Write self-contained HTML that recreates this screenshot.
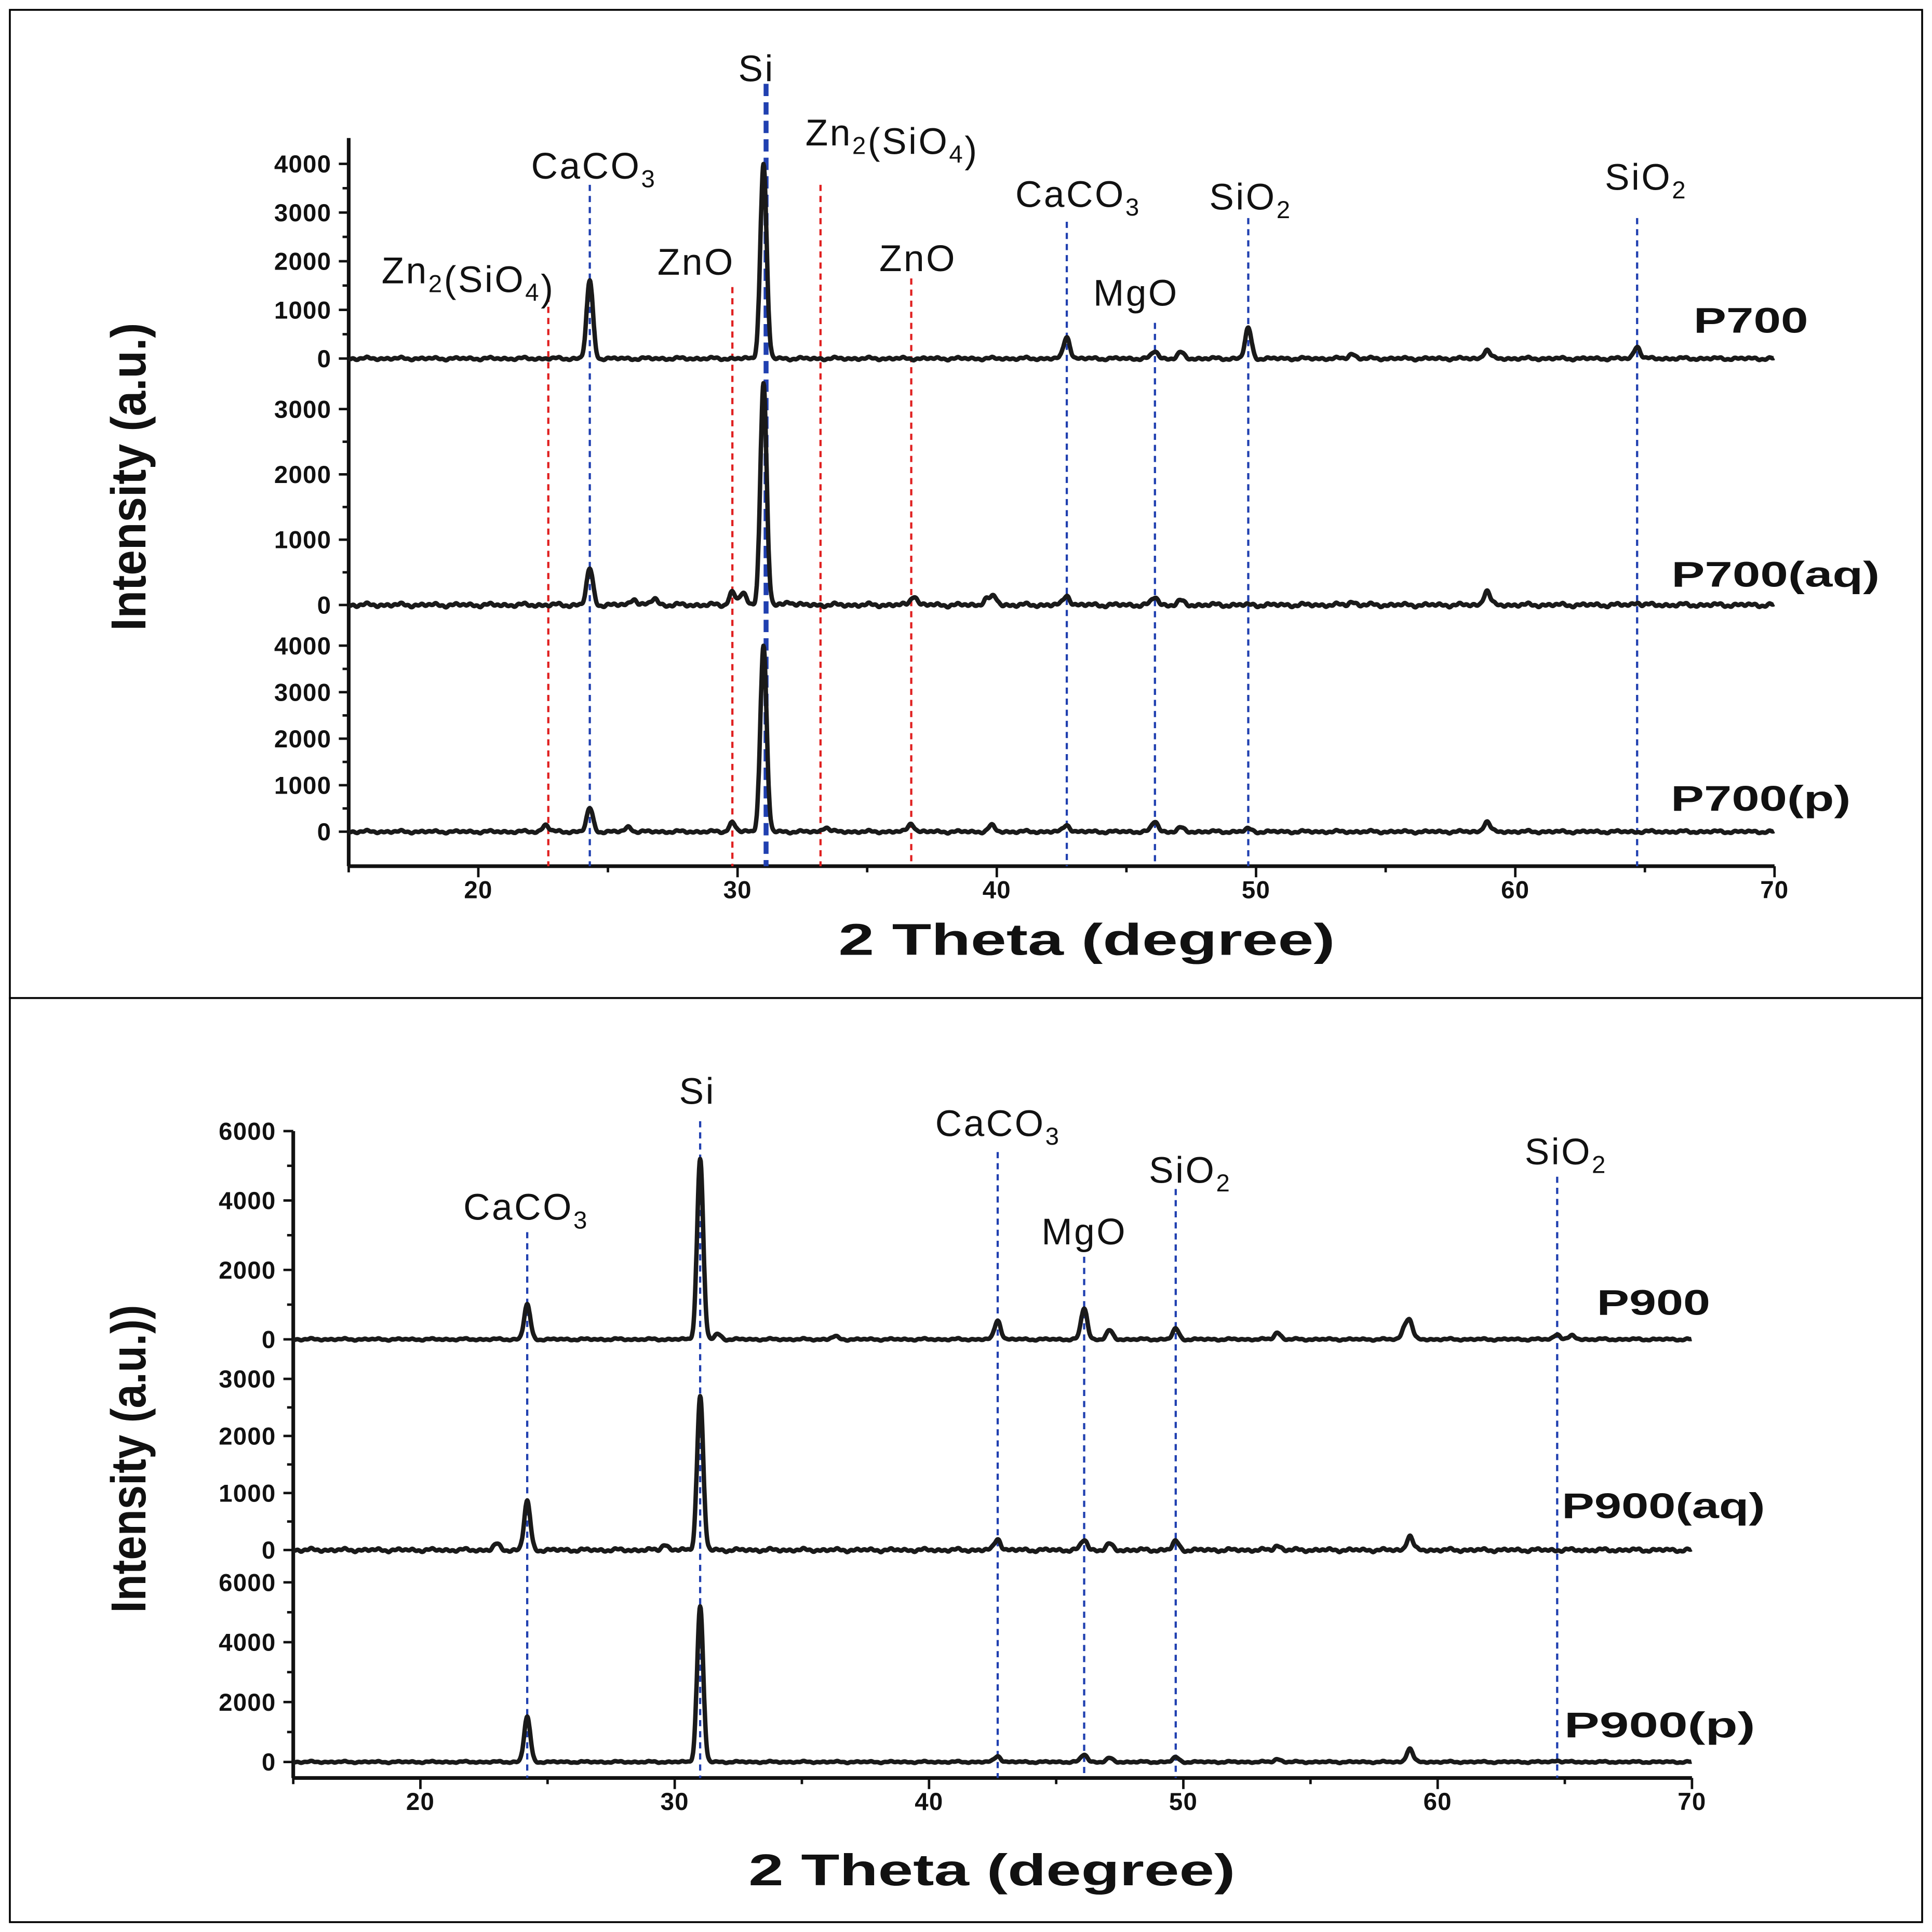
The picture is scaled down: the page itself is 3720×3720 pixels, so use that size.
<!DOCTYPE html>
<html><head><meta charset="utf-8"><style>
html,body{margin:0;padding:0;background:#fff}
svg{display:block}
text{font-family:"Liberation Sans",sans-serif;fill:#111}
.tk{font-size:20px;font-weight:bold;letter-spacing:0.5px}
.lab{font-size:30px;letter-spacing:1.5px}
.ser{font-size:29px;font-weight:bold}
</style></head><body>
<svg id="c" width="3720" height="3720" viewBox="0 0 1568 1568" xmlns="http://www.w3.org/2000/svg">
<rect x="8" y="8" width="1552" height="802" fill="none" stroke="#000" stroke-width="1.5"/>
<rect x="8" y="810" width="1552" height="750" fill="none" stroke="#000" stroke-width="1.5"/>
<g id="g"></g>
</svg>
<script>
// ---- data ----
const p700Pos=[24.3,31.0,42.7,46.1,47.1,49.7,53.7,58.9,64.7];
const p700Int=[1600,4000,450,150,120,620,100,180,250];
const p700aqPos=[24.3,26.0,26.8,29.8,30.2,31.0,32.0,36.8,39.6,39.9,42.7,46.1,47.1,53.7,58.9,64.7];
const p700aqInt=[550,100,100,200,180,3400,60,150,100,120,150,120,60,50,220,40];
const p700pPos=[22.6,24.3,25.8,29.8,31.0,33.4,36.7,39.8,42.7,46.1,47.1,49.7,58.9];
const p700pInt=[150,500,100,200,4000,100,180,130,150,220,80,60,220];
const p900Pos=[24.2,31.0,31.7,36.3,42.7,46.1,47.1,49.7,53.7,58.7,58.9,64.7,65.3];
const p900Int=[1000,5200,150,80,550,900,250,300,200,300,500,150,100];
const p900aqPos=[23.0,24.2,29.6,31.0,42.7,46.1,47.1,49.7,53.7,58.9];
const p900aqInt=[100,850,100,2700,200,180,100,150,80,250];
const p900pPos=[24.2,31.0,42.7,46.1,47.1,49.7,53.7,58.9,64.7];
const p900pInt=[1500,5200,200,250,120,150,100,450,50];
const xTicks=[20,30,40,50,60,70];
const topTicks=[[0,1000,2000,3000,4000],[0,1000,2000,3000],[0,1000,2000,3000,4000]];
const botTicks=[[0,2000,4000,6000],[0,1000,2000,3000],[0,2000,4000,6000]];
// ---- render ----
const NS="http://www.w3.org/2000/svg",G=document.getElementById('g');
function el(t,a,txt){const e=document.createElementNS(NS,t);for(const k in a)e.setAttribute(k,a[k]);if(txt!==undefined)e.textContent=txt;G.appendChild(e);return e;}
function panel(P){
 const X=v=>P.x15+(v-15)*P.dx;
 let e=el('line',{x1:P.x15,y1:P.axTop,x2:P.x15,y2:P.axB,stroke:'#111','stroke-width':3});
 
 e=el('line',{x1:P.x15,y1:P.axB,x2:X(70),y2:P.axB,stroke:'#111','stroke-width':3});
 
 for(let v=15;v<=70;v+=5){e=el('line',{x1:X(v),y1:P.axB,x2:X(v),y2:P.axB+(v%10==0?9:5),stroke:'#111','stroke-width':2});
  }
 xTicks.forEach(v=>{e=el('text',{x:X(v),y:P.axB+26,'text-anchor':'middle',class:'tk'},String(v));
  });
 e=el('text',{x:P.xtx,y:P.xty,'text-anchor':'middle','font-size':36,'font-weight':'bold',textLength:P.xtl,lengthAdjust:'spacingAndGlyphs'},'2 Theta (degree)');
 
 e=el('text',{x:0,y:0,'text-anchor':'middle','font-size':40,'font-weight':'bold',transform:`translate(${P.ytx},${P.yty}) rotate(-90)`,textLength:250,lengthAdjust:'spacingAndGlyphs'},P.ytitle);
 
 P.ann.forEach(a=>{e=el('line',{x1:X(a[0]),y1:a[1],x2:X(a[0]),y2:P.axB,stroke:a[2],'stroke-width':a[3]||1.8,'stroke-dasharray':a[3]?'10 5':'5 4'});
  });
 P.series.forEach(s=>{
  const Y=v=>s.y0-v*s.k;
  s.ticks.forEach(t=>{e=el('line',{x1:P.x15-8,y1:Y(t),x2:P.x15,y2:Y(t),stroke:'#111','stroke-width':2});
    
    e=el('text',{x:P.x15-14,y:Y(t)+7,'text-anchor':'end',class:'tk'},String(t));
    });
  for(let i=0;i<s.ticks.length-1;i++){const m=(s.ticks[i]+s.ticks[i+1])/2;
    e=el('line',{x1:P.x15-5,y1:Y(m),x2:P.x15,y2:Y(m),stroke:'#111','stroke-width':2});
    }
  let d='';
  for(let t=15;t<=70;t+=0.02){let v=0;
    s.pos.forEach((p,i)=>{const z=(t-p)/0.12;v+=s.int[i]*Math.exp(-0.5*z*z);});
    v+=25*Math.sin(t*7.3)*Math.sin(t*2.1)+12*Math.sin(t*23.7);
    d+=(d?'L':'M')+X(t).toFixed(1)+','+Y(v).toFixed(1);}
  e=el('path',{d:d,fill:'none',stroke:'#1a1a1a','stroke-width':3.6,'stroke-linejoin':'round'});
  
  e=el('text',{x:s.lx,y:s.ly,'text-anchor':'middle',class:'ser',textLength:s.lw,lengthAdjust:'spacingAndGlyphs'},s.name);
  
 });
 P.labels.forEach(l=>{e=el('text',{x:l[0],y:l[1],'text-anchor':'middle',class:'lab'});
  e.innerHTML=l[2];});
}
const sub=(a,b)=>a+'<tspan font-size="20" dy="7">'+b+'</tspan><tspan dy="-7"></tspan>';
panel({id:'top',x15:283,dx:21.04,axTop:112,axB:703,xtx:882,xty:775,xtl:403,ytx:118,yty:387,ytitle:'Intensity (a.u.)',
 ann:[[22.7,240,'#e02020'],[29.8,233,'#e02020'],[33.2,150,'#e02020'],[36.7,226,'#e02020'],
  [24.3,150,'#2040b0'],[31.1,68,'#2040b0',4],[42.7,180,'#2040b0'],[46.1,262,'#2040b0'],[49.7,177,'#2040b0'],[64.7,177,'#2040b0']],
 series:[{name:'P700',pos:p700Pos,int:p700Int,y0:291,k:0.0395,ticks:topTicks[0],lx:1421,ly:270,lw:93},
  {name:'P700(aq)',pos:p700aqPos,int:p700aqInt,y0:491,k:0.053,ticks:topTicks[1],lx:1441,ly:476,lw:169},
  {name:'P700(p)',pos:p700pPos,int:p700pInt,y0:675,k:0.03775,ticks:topTicks[2],lx:1429,ly:658,lw:146}],
 labels:[[724,118,'Zn'+sub('','2')+'(SiO'+sub('','4')+')'],[614,66,'Si'],[482,145,'CaCO'+sub('','3')],[380,230,'Zn'+sub('','2')+'(SiO'+sub('','4')+')'],
  [565,223,'ZnO'],[745,220,'ZnO'],[875,168,'CaCO'+sub('','3')],[922,248,'MgO'],[1015,170,'SiO'+sub('','2')],[1336,154,'SiO'+sub('','2')]]});
panel({id:'bottom',x15:238,dx:20.64,axTop:918,axB:1443,xtx:805,xty:1530,xtl:395,ytx:118,yty:1184,ytitle:'Intensity (a.u.))',
 ann:[[24.2,1000,'#2040b0'],[31.0,910,'#2040b0'],[42.7,935,'#2040b0'],[46.1,1020,'#2040b0'],[49.7,965,'#2040b0'],[64.7,955,'#2040b0']],
 series:[{name:'P900',pos:p900Pos,int:p900Int,y0:1087,k:0.02817,ticks:botTicks[0],lx:1342,ly:1067,lw:92},
  {name:'P900(aq)',pos:p900aqPos,int:p900aqInt,y0:1258,k:0.0463,ticks:botTicks[1],lx:1350,ly:1232,lw:165},
  {name:'P900(p)',pos:p900pPos,int:p900pInt,y0:1430,k:0.0243,ticks:botTicks[2],lx:1347,ly:1410,lw:155}],
 labels:[[566,896,'Si'],[427,990,'CaCO'+sub('','3')],[810,922,'CaCO'+sub('','3')],[880,1010,'MgO'],[966,960,'SiO'+sub('','2')],[1271,945,'SiO'+sub('','2')]]});
</script>
</body></html>
